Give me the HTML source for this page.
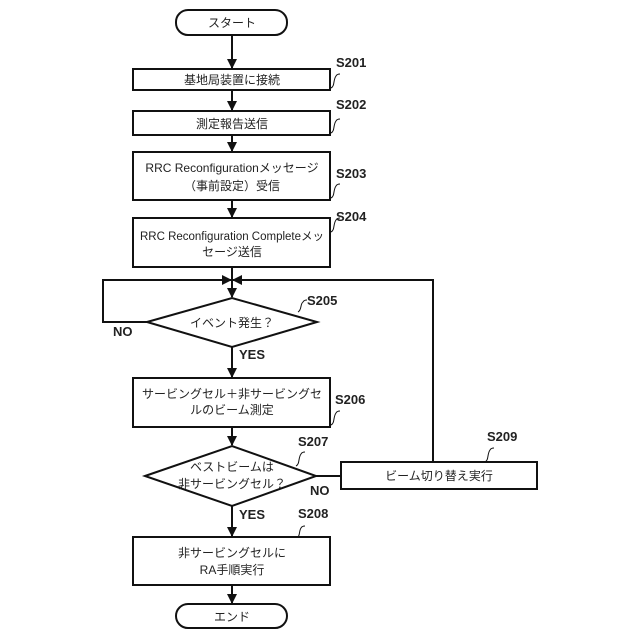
<!DOCTYPE html>
<html><head><meta charset="utf-8"><style>
html,body{margin:0;padding:0;background:#fff;}
svg{display:block;}
text{font-family:"Liberation Sans","Noto Sans CJK JP",sans-serif;fill:#222;}
.t{font-size:12px;text-anchor:middle;}
.l{font-size:13px;font-weight:bold;}
</style></head><body>
<svg width="640" height="640" viewBox="0 0 640 640" xmlns="http://www.w3.org/2000/svg">
<defs><marker id="a" markerWidth="10" markerHeight="10" refX="9" refY="5" orient="auto" markerUnits="userSpaceOnUse"><path d="M0,0 L10,5 L0,10 z" fill="#111"/></marker></defs>
<g stroke="#111" stroke-width="2" fill="none">
<rect x="176" y="10" width="111" height="25" rx="12"/>
<rect x="133" y="69" width="197" height="21"/>
<rect x="133" y="111" width="197" height="24"/>
<rect x="133" y="152" width="197" height="48"/>
<rect x="133" y="218" width="197" height="49"/>
<polygon points="147,322 232,298 317,322 232,347"/>
<rect x="133" y="378" width="197" height="49"/>
<polygon points="145,476 232,446 316,476 232,506"/>
<rect x="341" y="462" width="196" height="27"/>
<rect x="133" y="537" width="197" height="48"/>
<rect x="176" y="604" width="111" height="24" rx="12"/>
<line x1="232" y1="35" x2="232" y2="68" marker-end="url(#a)"/>
<line x1="232" y1="90" x2="232" y2="110" marker-end="url(#a)"/>
<line x1="232" y1="135" x2="232" y2="151" marker-end="url(#a)"/>
<line x1="232" y1="200" x2="232" y2="217" marker-end="url(#a)"/>
<line x1="232" y1="267" x2="232" y2="297" marker-end="url(#a)"/>
<polyline points="147,322 103,322 103,280 231,280" marker-end="url(#a)"/>
<polyline points="433,462 433,280 233,280" marker-end="url(#a)"/>
<line x1="232" y1="347" x2="232" y2="377" marker-end="url(#a)"/>
<line x1="232" y1="427" x2="232" y2="445" marker-end="url(#a)"/>
<line x1="316" y1="476" x2="341" y2="476"/>
<line x1="232" y1="506" x2="232" y2="536" marker-end="url(#a)"/>
<line x1="232" y1="585" x2="232" y2="603" marker-end="url(#a)"/>
</g>
<g stroke="#111" stroke-width="1" fill="none">
<path d="M331,88 c4,-2 2,-8 5,-12 c1,-2 3,-2 4,-2"/>
<path d="M331,133 c4,-2 2,-8 5,-12 c1,-2 3,-2 4,-2"/>
<path d="M331,198 c4,-2 2,-8 5,-12 c1,-2 3,-2 4,-2"/>
<path d="M331,232 c4,-2 2,-8 5,-12 c1,-2 3,-2 4,-2"/>
<path d="M298,312 c4,-2 2,-8 5,-10 c1,-2 3,-2 4,-2"/>
<path d="M331,425 c4,-2 2,-8 5,-12 c1,-2 3,-2 4,-2"/>
<path d="M296,466 c4,-2 2,-8 5,-12 c1,-2 3,-2 4,-2"/>
<path d="M298,537 c2,-2 1,-6 3,-9 c1,-2 3,-2 4,-2"/>
<path d="M485,462 c4,-2 2,-8 5,-12 c1,-2 3,-2 4,-2"/>
</g>
<text class="t" x="232" y="27">スタート</text>
<text class="t" x="232" y="84">基地局装置に接続</text>
<text class="t" x="232" y="128">測定報告送信</text>
<text class="t" x="232" y="172">RRC Reconfigurationメッセージ</text>
<text class="t" x="232" y="190">（事前設定）受信</text>
<text class="t" x="232" y="240" style="font-size:11.5px">RRC Reconfiguration Completeメッ</text>
<text class="t" x="232" y="256">セージ送信</text>
<text class="t" x="232" y="327">イベント発生？</text>
<text class="t" x="232" y="398">サービングセル＋非サービングセ</text>
<text class="t" x="232" y="414">ルのビーム測定</text>
<text class="t" x="232" y="471">ベストビームは</text>
<text class="t" x="232" y="488">非サービングセル？</text>
<text class="t" x="439" y="480">ビーム切り替え実行</text>
<text class="t" x="232" y="557">非サービングセルに</text>
<text class="t" x="232" y="574">RA手順実行</text>
<text class="t" x="232" y="621">エンド</text>
<text class="l" x="336" y="67">S201</text>
<text class="l" x="336" y="109">S202</text>
<text class="l" x="336" y="178">S203</text>
<text class="l" x="336" y="221">S204</text>
<text class="l" x="307" y="305">S205</text>
<text class="l" x="335" y="404">S206</text>
<text class="l" x="298" y="446">S207</text>
<text class="l" x="298" y="518">S208</text>
<text class="l" x="487" y="441">S209</text>
<text class="l" x="113" y="336">NO</text>
<text class="l" x="239" y="359">YES</text>
<text class="l" x="310" y="495">NO</text>
<text class="l" x="239" y="519">YES</text>
</svg>
</body></html>
